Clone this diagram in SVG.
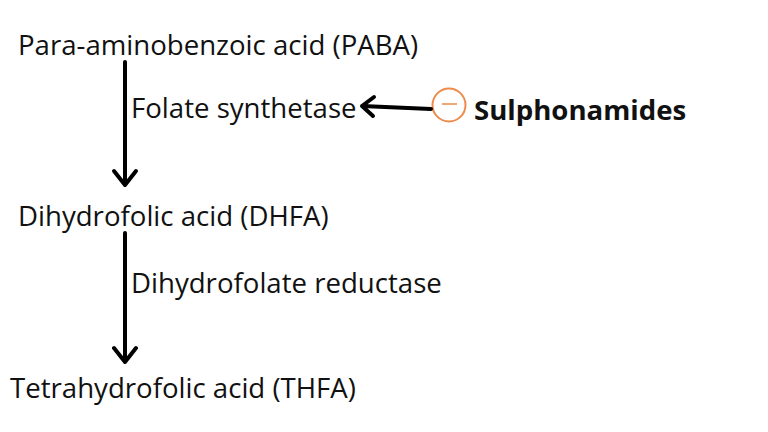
<svg xmlns="http://www.w3.org/2000/svg" width="768" height="432" viewBox="0 0 768 432">
<style>
text{font-family:"Open Sans","Noto Sans",sans-serif;font-size:27.6px;fill:#111}
.b{font-weight:bold}
.c{fill:none;stroke:#000;stroke-width:4;stroke-linecap:round;stroke-linejoin:round}
</style>
<rect width="768" height="432" fill="#fff"/>
<g id="paba"><text x="18" y="55">Para-aminobenzoic acid (PABA)</text></g>
<g id="folate-synthetase"><text x="131" y="118">Folate synthetase</text></g>
<g id="dhfa"><text x="18" y="226">Dihydrofolic acid (DHFA)</text></g>
<g id="dihydrofolate-reductase"><text x="131" y="293">Dihydrofolate reductase</text></g>
<g id="thfa"><text x="10" y="398">Tetrahydrofolic acid (THFA)</text></g>
<g id="sulphonamides">
<circle cx="449" cy="105" r="16.5" fill="none" stroke="#ee8a4a" stroke-width="2"/>
<line x1="442" y1="104" x2="457" y2="104" stroke="#ee8a4a" stroke-width="1.5"/>
<text class="b" x="474" y="120">Sulphonamides</text>
</g>
<g id="connectors">
<path class="c" d="M431 109L362 106M374 97L362 106L373 116"/>
<path class="c" d="M125 62V185M114 171L125 185L136 171"/>
<path class="c" d="M125 233V362M114 348L125 362L136 348"/>
</g>
</svg>
